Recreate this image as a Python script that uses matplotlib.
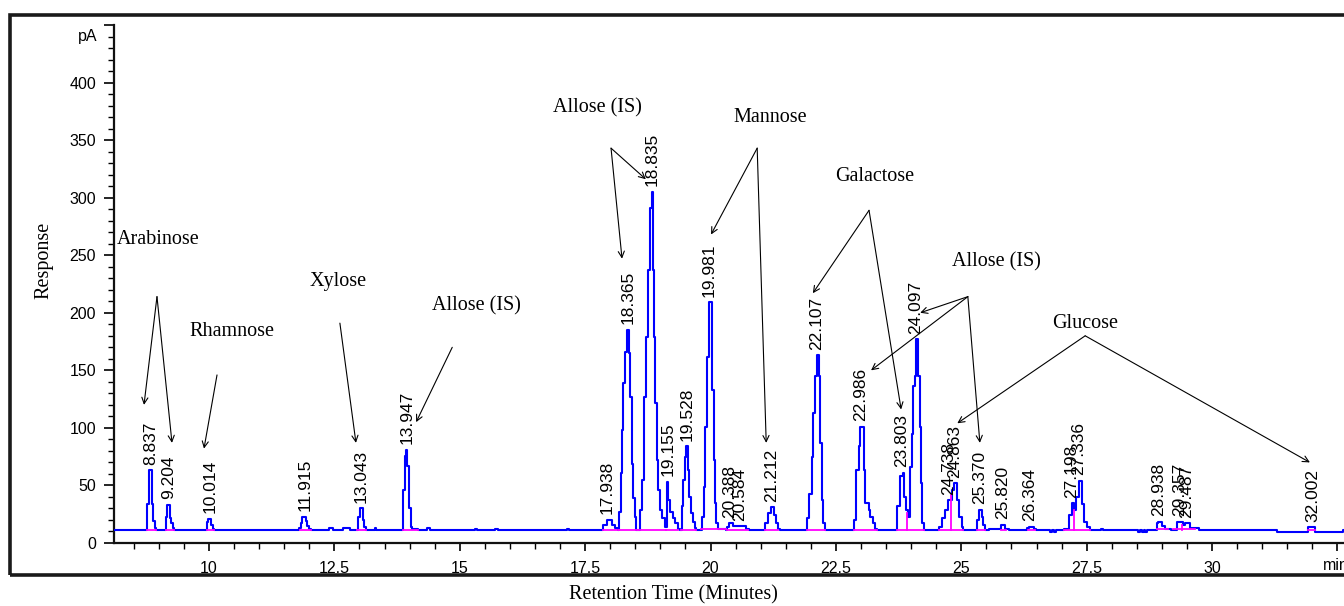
import matplotlib
matplotlib.use("Agg")
import matplotlib.pyplot as plt
from matplotlib.patches import Rectangle
from matplotlib.ticker import MultipleLocator, FixedLocator

# ---------------- data ----------------
# chromatogram trace (time in min, response in pA), step values
trace_t = [8.10, 8.77, 8.80, 8.86, 8.89, 8.92, 8.95,
           9.14, 9.17, 9.22, 9.25, 9.28, 9.31,
           9.97, 9.99, 10.04, 10.07, 10.10,
           11.80, 11.84, 11.86, 11.93, 11.95, 12.00, 12.03,
           12.40, 12.48, 12.67, 12.81,
           12.97, 13.01, 13.07, 13.10, 13.14, 13.31, 13.33,
           13.86, 13.90, 13.935, 13.955, 13.985, 14.02, 14.05, 14.17, 14.34, 14.41,
           15.31, 15.34, 15.70, 15.76, 17.13, 17.17,
           17.86, 17.93, 18.03, 18.10, 18.16,
           18.18, 18.21, 18.24, 18.26, 18.29, 18.33, 18.375, 18.395, 18.43, 18.45, 18.49, 18.52,
           18.59, 18.63, 18.68, 18.71, 18.76, 18.79, 18.83, 18.85, 18.87, 18.89, 18.93, 18.96, 18.99, 19.04, 19.09,
           19.13, 19.16, 19.19, 19.25, 19.29, 19.36, 19.39,
           19.43, 19.46, 19.49, 19.51, 19.545, 19.57, 19.605, 19.645, 19.69, 19.72,
           19.82, 19.86, 19.89, 19.92, 19.96, 20.02, 20.06, 20.08, 20.11, 20.14, 20.30,
           20.33, 20.36, 20.45, 20.70, 20.76,
           21.09, 21.15, 21.20, 21.27, 21.31, 21.35, 21.38,
           21.93, 21.97, 22.02, 22.05, 22.08, 22.12, 22.16, 22.18, 22.22, 22.25, 22.29,
           22.86, 22.90, 22.95, 22.98, 23.05, 23.08, 23.15, 23.18, 23.23, 23.28, 23.31,
           23.71, 23.78, 23.83, 23.86, 23.90, 23.94, 23.98, 24.01, 24.04, 24.08, 24.10, 24.14, 24.18,
           24.19, 24.22, 24.26,
           24.56, 24.61, 24.68, 24.73, 24.81, 24.86, 24.92, 24.96, 25.01, 25.04,
           25.31, 25.36, 25.41, 25.44, 25.47,
           25.55, 25.80, 25.88, 25.95,
           26.30, 26.34, 26.44, 26.48,
           26.76, 26.80, 26.84, 26.88,
           27.04, 27.14, 27.20, 27.25, 27.29, 27.34, 27.40, 27.45, 27.50, 27.56,
           27.79, 27.82,
           28.53, 28.56, 28.60, 28.64, 28.67, 28.70,
           28.90, 28.93, 29.00, 29.06, 29.19, 29.30, 29.415, 29.46, 29.56, 29.73,
           31.29, 31.92, 32.06, 32.62, 32.70]
trace_y = [11, 34, 63, 34, 19, 13, 11,
           23, 33, 22, 17, 13, 11,
           18, 21, 16, 12, 11,
           13, 17, 23, 19, 15, 12, 11,
           13, 11, 13, 11,
           23, 30, 20, 14, 11, 13, 11,
           46, 76, 81, 67, 30, 14, 12.5, 11, 13, 11,
           12.5, 11, 12.5, 11, 12.5, 11,
           16, 20, 16, 13, 11,
           27, 61, 98, 139, 166, 185, 165, 127, 69, 39, 23, 11,
           29, 55, 127, 179, 237, 291, 305, 237, 179, 122, 72, 46, 29, 22, 14,
           53, 37, 27, 22, 17, 12, 11,
           32, 55, 75, 84, 63, 40, 26, 18, 13, 11,
           23, 49, 101, 162, 209, 133, 72, 35, 17, 12.5, 11.5,
           14, 17, 14.5, 12, 11,
           17, 26, 31, 24, 17, 12, 11,
           22, 43, 75, 113, 145, 163, 145, 87, 37, 17, 11,
           20, 63, 84, 101, 63, 35, 29, 23, 17, 12, 11,
           32, 58, 61, 40, 29, 23, 66, 95, 136, 145, 177, 145, 101,
           52, 17, 11,
           14, 22, 29, 37, 46, 52, 37, 23, 14, 11,
           20, 29, 23, 16, 11,
           12, 15.5, 12, 11,
           13, 14, 12, 11,
           9.8, 11, 9.8, 11,
           12, 24, 34.5, 29, 40, 54, 34, 18.5, 14, 11,
           12.5, 11,
           9.8, 11, 9.8, 11, 9.8, 11,
           17, 18.5, 15, 12.5, 11.5, 18.5, 15.5, 17, 13, 11,
           9.8, 13.5, 9.8, 11, 11]

# labelled peaks (retention time, apex response)
peak_rt = [8.837, 9.204, 10.014, 11.915, 13.043, 13.947, 17.938, 18.365, 18.835,
           19.155, 19.528, 19.981, 20.388, 20.584, 21.212, 22.107, 22.986, 23.803,
           24.097, 24.738, 24.863, 25.370, 25.820, 26.364, 27.198, 27.336, 28.938,
           29.357, 29.487, 32.002]
peak_top = [63, 33, 21, 23, 30, 81, 20, 185, 305, 53, 84, 209, 17, 14, 31, 163, 101,
            61, 177, 37, 52, 29, 16, 14, 34, 54, 18.5, 18.5, 17, 13.5]

# integration baselines (start, end) and drop lines (time, height)
base_start = [8.77, 9.14, 9.97, 11.82, 12.96, 13.86, 17.86, 18.17, 18.56, 19.12, 19.42,
              19.80, 20.33, 21.09, 21.93, 22.86, 23.71, 24.56, 25.31, 25.80, 26.32,
              27.04, 28.90, 29.22, 31.92]
base_end = [8.95, 9.30, 10.10, 12.03, 13.14, 14.17, 18.17, 18.56, 19.12, 19.36, 19.72,
            20.30, 20.75, 21.35, 22.29, 23.31, 24.26, 25.04, 25.47, 25.90, 26.46,
            27.56, 29.12, 29.65, 32.06]
base_level = [11, 11, 11, 11, 11, 11.5, 11, 11, 11, 11, 11,
              12.5, 11.5, 11, 11, 11, 11, 11, 11, 11.5, 11.5,
              11, 12, 12, 11]
drop_t = [23.91, 24.79, 27.24, 29.40]
drop_top = [26, 42, 29, 16]

# compound annotations
comp_names = ["Arabinose", "Rhamnose", "Xylose", "Allose (IS)", "Allose (IS)",
              "Mannose", "Galactose", "Allose (IS)", "Glucose"]
comp_x = [8.165, 9.62, 12.01, 14.45, 16.86, 20.45, 22.48, 24.82, 26.81]
comp_y = [263.5, 184, 227, 206, 378, 370, 318, 244, 191]

arrow_from_x = [8.963, 8.963, 10.16, 12.61, 14.85, 18.016, 18.016, 20.93, 20.93,
                23.16, 23.16, 25.13, 25.13, 25.13, 27.47, 27.47]
arrow_from_y = [214, 214, 146, 191, 170, 343, 343, 343, 343,
                289, 289, 214, 214, 214, 180, 180]
arrow_to_x = [8.704, 9.262, 9.90, 12.93, 14.13, 18.235, 18.71, 20.01, 21.11,
              22.04, 23.80, 24.18, 23.20, 25.37, 24.92, 31.95]
arrow_to_y = [120, 87, 82, 87, 105, 247, 316, 268, 87,
              217, 116, 200, 150, 87, 104, 70]

x_major = [10, 12.5, 15, 17.5, 20, 22.5, 25, 27.5, 30, 32.5]
x_labels = ["10", "12.5", "15", "17.5", "20", "22.5", "25", "27.5", "30", ""]
y_major = [0, 50, 100, 150, 200, 250, 300, 350, 400, 450]
y_labels = ["0", "50", "100", "150", "200", "250", "300", "350", "400", ""]

# ---------------- figure ----------------
W, H = 1344, 606
fig = plt.figure(figsize=(W / 100, H / 100), dpi=100)
ax_left, ax_right, ax_bottom, ax_top = 114, 1344, 543, 25
ax = fig.add_axes([ax_left / W, 1 - ax_bottom / H, (ax_right - ax_left) / W,
                   (ax_bottom - ax_top) / H])
ax.set_xlim(8.106, 32.63)
ax.set_ylim(0, 450)

sans = "Liberation Sans"
serif = "Liberation Serif"

ax.plot(trace_t, trace_y, drawstyle="steps-post", color="#0000ff", lw=1.5, zorder=3)
for s, e, lv in zip(base_start, base_end, base_level):
    ax.plot([s, e], [lv, lv], color="#ff00ff", lw=1.3, zorder=4)
for t, h in zip(drop_t, drop_top):
    ax.plot([t, t], [11, h], color="#ff00ff", lw=1.3, zorder=4)

for rt, top in zip(peak_rt, peak_top):
    ax.annotate(f"{rt:.3f}", xy=(rt, top), xytext=(0, 4), textcoords="offset points",
                rotation=90, ha="center", va="bottom", fontsize=12.5, family=sans,
                color="black", zorder=5)

for name, x, y in zip(comp_names, comp_x, comp_y):
    ax.text(x, y, name, ha="left", va="center", fontsize=14.5, family=serif, color="black")

for fx, fy, tx, ty in zip(arrow_from_x, arrow_from_y, arrow_to_x, arrow_to_y):
    ax.annotate("", xy=(tx, ty), xytext=(fx, fy),
                arrowprops=dict(arrowstyle="->", lw=0.8, color="black",
                                shrinkA=0, shrinkB=0, mutation_scale=11))

# axes styling
for sp in ["top", "right"]:
    ax.spines[sp].set_visible(False)
for sp in ["left", "bottom"]:
    ax.spines[sp].set_linewidth(1.6)
    ax.spines[sp].set_color("#111111")

ax.xaxis.set_major_locator(FixedLocator(x_major))
ax.set_xticklabels(x_labels)
ax.xaxis.set_minor_locator(MultipleLocator(0.5))
ax.yaxis.set_major_locator(FixedLocator(y_major))
ax.set_yticklabels(y_labels)
ax.yaxis.set_minor_locator(MultipleLocator(10))
ax.tick_params(axis="x", which="major", length=6, width=1.2, pad=7, labelsize=11.5)
ax.tick_params(axis="x", which="minor", length=4, width=1.0)
ax.tick_params(axis="y", which="major", length=7, width=1.2, pad=6, labelsize=11.5)
ax.tick_params(axis="y", which="minor", length=4, width=1.0)
for lab in ax.get_xticklabels() + ax.get_yticklabels():
    lab.set_family(sans)

# "pA" unit at the top of the y axis, "min" at the right of the x axis
fig.text(97 / W, 1 - 37 / H, "pA", ha="right", va="center", fontsize=11.5, family=sans)
fig.text(1323 / W, 1 - 565 / H, "min", ha="left", va="center", fontsize=11.5, family=sans)

# axis titles
fig.text(44 / W, 1 - 260 / H, "Response", rotation=90, ha="center", va="center",
         fontsize=14.5, family=serif)
fig.text(673 / W, 1 - 595 / H, "Retention Time (Minutes)", ha="center", va="center",
         fontsize=14.5, family=serif)

# outer frame
fig.patches.append(Rectangle((10 / W, 1 - 575 / H), 1.2, (575 - 15) / H,
                             transform=fig.transFigure, fill=False, lw=2.6,
                             edgecolor="#1a1a1a", clip_on=False))

fig.savefig("out.png", dpi=100)
